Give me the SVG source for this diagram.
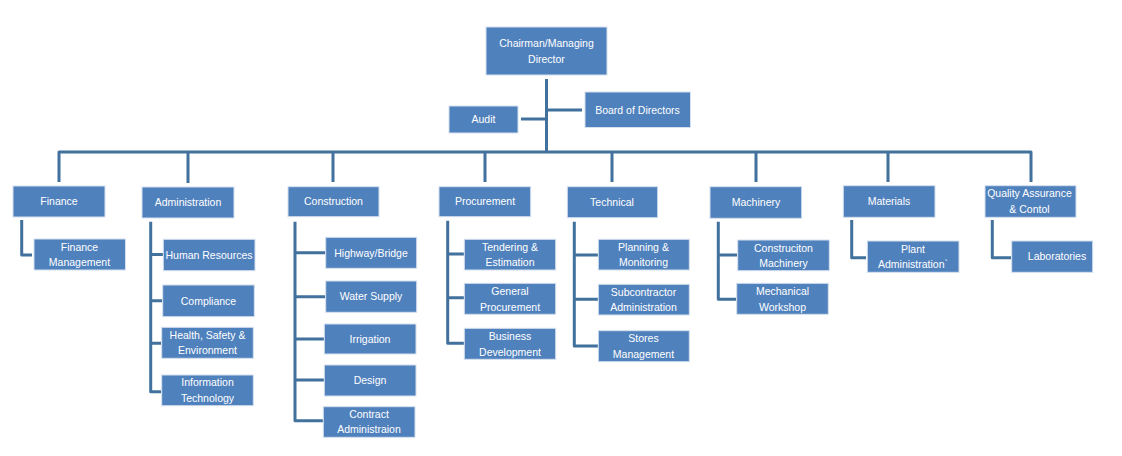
<svg xmlns="http://www.w3.org/2000/svg" width="1122" height="456" viewBox="0 0 1122 456">
<style>
.b{fill:#4f81bd;stroke:#d6e0ee;stroke-width:1}
.t{font-family:"Liberation Sans",Arial,sans-serif;font-size:10.5px;fill:#ffffff;text-anchor:middle}
.c{fill:none;stroke:#41719c;stroke-width:3;stroke-linejoin:round}
</style>
<rect width="1122" height="456" fill="#ffffff"/>
<g id="connectors">
<path class="c" d="M546.5,79 V152"/>
<path class="c" d="M521,119 H546.5"/>
<path class="c" d="M546.5,110 H582"/>
<path class="c" d="M59,182 V152 H1031 V182"/>
<path class="c" d="M188,152 V183 M333,152 V182 M485,152 V182 M612,152 V182 M756,152 V182 M888,152 V182"/>
<path class="c" d="M21.7,220 V255 H32"/>
<path class="c" d="M150.7,221.7 V391.7 H161 M150.7,254.5 H163 M150.7,300.7 H162 M150.7,343.3 H161"/>
<path class="c" d="M295,221.7 V420.7 H323 M295,252.7 H325 M295,296.7 H325 M295,339 H324 M295,380 H324"/>
<path class="c" d="M447.7,220.7 V343.3 H464 M447.7,254 H464 M447.7,297.7 H464"/>
<path class="c" d="M574.3,221.7 V346 H598 M574.3,255 H598 M574.3,299.3 H598"/>
<path class="c" d="M718.3,221.7 V299.3 H736 M718.3,255 H737"/>
<path class="c" d="M851.7,220 V257.7 H866"/>
<path class="c" d="M992.3,220 V257.7 H1011"/>
</g>
<g id="chairman"><rect class="b" x="486" y="27" width="121" height="48"/><text class="t" x="546.5" y="47">Chairman/Managing</text><text class="t" x="546.5" y="62.5">Director</text></g>
<g id="audit"><rect class="b" x="449" y="106" width="69" height="27"/><text class="t" x="483.5" y="123">Audit</text></g>
<g id="board"><rect class="b" x="585" y="92" width="105.5" height="35.5"/><text class="t" x="637.5" y="113.5">Board of Directors</text></g>

<g id="finance"><rect class="b" x="13" y="186" width="92" height="31"/><text class="t" x="59" y="205">Finance</text></g>
<g id="finance-management"><rect class="b" x="34" y="239" width="91.5" height="31"/><text class="t" x="79.5" y="250.5">Finance</text><text class="t" x="79.5" y="266">Management</text></g>

<g id="administration"><rect class="b" x="142" y="187" width="92" height="31"/><text class="t" x="188" y="206">Administration</text></g>
<g id="human-resources"><rect class="b" x="163.3" y="239.3" width="91.7" height="31.4"/><text class="t" x="209" y="258.5">Human Resources</text></g>
<g id="compliance"><rect class="b" x="162.7" y="285" width="91.6" height="31.7"/><text class="t" x="208.5" y="304.5">Compliance</text></g>
<g id="hse"><rect class="b" x="161.7" y="327.3" width="91.6" height="31"/><text class="t" x="207.5" y="338.5">Health, Safety &amp;</text><text class="t" x="207.5" y="354">Environment</text></g>
<g id="it"><rect class="b" x="161.7" y="375" width="91.6" height="30.7"/><text class="t" x="207.5" y="386">Information</text><text class="t" x="207.5" y="401.5">Technology</text></g>

<g id="construction"><rect class="b" x="288" y="186.7" width="91" height="30"/><text class="t" x="333.5" y="205">Construction</text></g>
<g id="highway"><rect class="b" x="325.7" y="237.3" width="91" height="31"/><text class="t" x="371" y="256.5">Highway/Bridge</text></g>
<g id="water"><rect class="b" x="325.7" y="281" width="91" height="31.3"/><text class="t" x="371" y="300">Water Supply</text></g>
<g id="irrigation"><rect class="b" x="324.3" y="324" width="91.7" height="30"/><text class="t" x="370" y="342.5">Irrigation</text></g>
<g id="design"><rect class="b" x="324.3" y="365" width="91.7" height="31"/><text class="t" x="370" y="384">Design</text></g>
<g id="contract"><rect class="b" x="323.3" y="406.7" width="91.7" height="30.6"/><text class="t" x="369" y="417.5">Contract</text><text class="t" x="369" y="433">Administraion</text></g>

<g id="procurement"><rect class="b" x="439" y="186.7" width="91.7" height="30"/><text class="t" x="485" y="205">Procurement</text></g>
<g id="tendering"><rect class="b" x="464.3" y="239.3" width="91.4" height="30.7"/><text class="t" x="510" y="250.5">Tendering &amp;</text><text class="t" x="510" y="266">Estimation</text></g>
<g id="general-procurement"><rect class="b" x="464.3" y="283.3" width="91.4" height="31"/><text class="t" x="510" y="295">General</text><text class="t" x="510" y="310.5">Procurement</text></g>
<g id="business"><rect class="b" x="464.3" y="328.3" width="91.4" height="31"/><text class="t" x="510" y="340">Business</text><text class="t" x="510" y="355.5">Development</text></g>

<g id="technical"><rect class="b" x="567.3" y="186.7" width="90.4" height="31"/><text class="t" x="612" y="205.5">Technical</text></g>
<g id="planning"><rect class="b" x="598.3" y="239.3" width="91" height="30.7"/><text class="t" x="643.5" y="250.5">Planning &amp;</text><text class="t" x="643.5" y="266">Monitoring</text></g>
<g id="subcontractor"><rect class="b" x="598.3" y="284.3" width="91" height="30.7"/><text class="t" x="643.5" y="295.5">Subcontractor</text><text class="t" x="643.5" y="311">Administration</text></g>
<g id="stores"><rect class="b" x="598.3" y="330.7" width="91" height="31"/><text class="t" x="643.5" y="342">Stores</text><text class="t" x="643.5" y="357.5">Management</text></g>

<g id="machinery"><rect class="b" x="710" y="186.7" width="91.7" height="31.6"/><text class="t" x="756" y="205.5">Machinery</text></g>
<g id="construction-machinery"><rect class="b" x="737.7" y="240" width="91.6" height="30.7"/><text class="t" x="783.5" y="251.5">Construciton</text><text class="t" x="783.5" y="267">Machinery</text></g>
<g id="mechanical"><rect class="b" x="736.7" y="283.3" width="91.6" height="31"/><text class="t" x="782.5" y="295">Mechanical</text><text class="t" x="782.5" y="310.5">Workshop</text></g>

<g id="materials"><rect class="b" x="843.3" y="185.7" width="91.7" height="31.6"/><text class="t" x="889" y="204.5">Materials</text></g>
<g id="plant"><rect class="b" x="867.3" y="241" width="91.7" height="31.3"/><text class="t" x="913" y="252.5">Plant</text><text class="t" x="913" y="268">Administration`</text></g>

<g id="quality"><rect class="b" x="985" y="185.7" width="91" height="31.6"/><text class="t" x="1029.5" y="197">Quality Assurance</text><text class="t" x="1029.5" y="212.5">&amp; Contol</text></g>
<g id="laboratories"><rect class="b" x="1011.7" y="241" width="81" height="31.3"/><text class="t" x="1057" y="260">Laboratories</text></g>
</svg>
